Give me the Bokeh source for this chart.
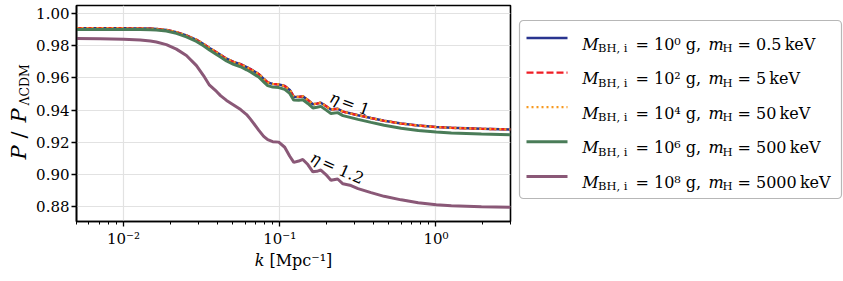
import math
from bokeh.plotting import figure
from bokeh.models import Range1d, FixedTicker, PrintfTickFormatter, CustomJSTickFormatter, BoxAnnotation, Label
from bokeh.layouts import row
from bokeh.core.properties import value
from bokeh.embed import file_html
from bokeh.resources import INLINE

# ---------------- data ----------------
k = [0.005, 0.00709, 0.010, 0.0128, 0.01484, 0.01622, 0.0188, 0.0218, 0.02527, 0.0293,
     0.0325, 0.03551, 0.03938, 0.04178, 0.04565, 0.05064, 0.05617, 0.06137, 0.06511, 0.07329,
     0.07891, 0.08373, 0.09016, 0.09853, 0.1076, 0.1159, 0.1230, 0.1324, 0.1405, 0.1513,
     0.1629, 0.1728, 0.1833, 0.1974, 0.2126, 0.2348, 0.2538, 0.2858, 0.3170, 0.3842,
     0.4656, 0.5984, 0.7697, 1.004, 1.254, 1.954, 3.0]

p_m1e0 = [0.9910, 0.9910, 0.9910, 0.9909, 0.9908, 0.9906, 0.9900, 0.9886, 0.9865, 0.9838,
          0.9812, 0.9787, 0.9760, 0.9744, 0.9720, 0.9700, 0.9686, 0.9668, 0.9655, 0.9625,
          0.9595, 0.9572, 0.9563, 0.9560, 0.9550, 0.9525, 0.9483, 0.9482, 0.9486, 0.9463,
          0.9436, 0.9440, 0.9446, 0.9425, 0.9403, 0.9408, 0.9390, 0.9378, 0.9368, 0.9350,
          0.9333, 0.9316, 0.9303, 0.9294, 0.9289, 0.9283, 0.9279]

p_m1e2 = [0.9910, 0.9910, 0.9910, 0.9909, 0.9908, 0.9906, 0.9900, 0.9886, 0.9865, 0.9838,
          0.9812, 0.9787, 0.9760, 0.9744, 0.9720, 0.9700, 0.9686, 0.9668, 0.9655, 0.9625,
          0.9595, 0.9572, 0.9563, 0.9560, 0.9550, 0.9525, 0.9483, 0.9482, 0.9486, 0.9463,
          0.9436, 0.9440, 0.9446, 0.9425, 0.9403, 0.9408, 0.9390, 0.9378, 0.9368, 0.9350,
          0.9333, 0.9316, 0.9303, 0.9294, 0.9289, 0.9283, 0.9279]

p_m1e4 = [0.9910, 0.9910, 0.9910, 0.9909, 0.9908, 0.9906, 0.9900, 0.9886, 0.9865, 0.9838,
          0.9812, 0.9787, 0.9760, 0.9744, 0.9720, 0.9700, 0.9686, 0.9668, 0.9655, 0.9625,
          0.9595, 0.9572, 0.9563, 0.9560, 0.9550, 0.9525, 0.9483, 0.9482, 0.9486, 0.9463,
          0.9436, 0.9440, 0.9446, 0.9425, 0.9403, 0.9408, 0.9390, 0.9378, 0.9368, 0.9350,
          0.9333, 0.9316, 0.9303, 0.9294, 0.9289, 0.9283, 0.9279]

p_m1e6 = [0.9903, 0.9903, 0.9903, 0.9902, 0.9901, 0.9899, 0.9893, 0.9878, 0.9856, 0.9828,
          0.9801, 0.9775, 0.9747, 0.9731, 0.9706, 0.9685, 0.9670, 0.9651, 0.9637, 0.9606,
          0.9576, 0.9552, 0.9543, 0.9540, 0.9529, 0.9504, 0.9462, 0.9461, 0.9464, 0.9441,
          0.9413, 0.9417, 0.9423, 0.9401, 0.9379, 0.9384, 0.9365, 0.9353, 0.9342, 0.9323,
          0.9305, 0.9287, 0.9273, 0.9263, 0.9257, 0.9250, 0.9246]

p_m1e8 = [0.9846, 0.9845, 0.9842, 0.9837, 0.9830, 0.9824, 0.9808, 0.9780, 0.9740, 0.9677,
          0.9615, 0.9555, 0.9516, 0.9490, 0.9460, 0.9432, 0.9403, 0.9372, 0.9342, 0.9275,
          0.9236, 0.9215, 0.9203, 0.9200, 0.9168, 0.9112, 0.9074, 0.9082, 0.9092, 0.9060,
          0.9015, 0.9018, 0.9026, 0.8998, 0.8962, 0.8970, 0.8940, 0.8929, 0.8910, 0.8885,
          0.8862, 0.8840, 0.8822, 0.8809, 0.8803, 0.8797, 0.8794]

legend_bh_exp = ["⁰", "²", "⁴", "⁶", "⁸"]
legend_mh = ["0.5", "5", "50", "500", "5000"]
y_ticks = [0.88, 0.90, 0.92, 0.94, 0.96, 0.98, 1.00]
x_ticks = [0.01, 0.1, 1.0]
eta_labels = ["1", "1.2"]
x_label = "𝑘 [Mpc⁻¹]"

# ---------------- styles ----------------
BLUE = "#29348f"
RED = "#f01d25"
ORANGE = "#f7991f"
GREEN = "#4a7c58"
PURPLE = "#8a5877"
SERIF = "DejaVu Serif"

# ---------------- geometry (page pixels, page origin at 0,0) ----------------
YLAB_W = 31
FL, FT, FW, FH = 76, 5, 434, 216
BR, BB = 5, 150
PANEL_H = FT + FH + BB
PANEL_SHIFT = 6
P1_W = FL - YLAB_W + FW + BR
LEG_X = YLAB_W + P1_W
LEG_W = 843 - LEG_X
X0, X1 = 0.005, 3.0
Y0, Y1 = 0.8705, 1.0052


def to_data(px, py):
    lx = math.log10(X0) + (px - FL) / FW * (math.log10(X1) - math.log10(X0))
    return 10 ** lx, Y0 + (FT + FH - py) / FH * (Y1 - Y0)


def panel(w, h):
    f = figure(x_range=Range1d(0, w), y_range=Range1d(h + PANEL_SHIFT, PANEL_SHIFT),
               frame_width=w, frame_height=h,
               min_border=0, x_axis_location=None, y_axis_location=None, title=None,
               output_backend="svg", toolbar_location=None, align="start")
    f.grid.visible = False
    f.outline_line_color = None
    f.background_fill_color = "white"
    f.border_fill_color = "white"
    return f


p = figure(x_axis_type="log", x_range=Range1d(X0, X1), y_range=Range1d(Y0, Y1),
           frame_width=FW, frame_height=FH, min_border_left=FL - YLAB_W, min_border_right=BR,
           min_border_top=FT, min_border_bottom=BB, align="start", title=None,
           output_backend="svg", toolbar_location=None)
p.background_fill_color = "white"
p.border_fill_color = "white"
p.outline_line_color = "black"
p.outline_line_width = 1.6

minor = []
for dec in [0.001, 0.01, 0.1, 1.0]:
    for m in range(2, 10):
        v = m * dec
        if X0 <= v <= X1:
            minor.append(v)
p.xaxis.ticker = FixedTicker(ticks=x_ticks, minor_ticks=minor)
p.yaxis.ticker = FixedTicker(ticks=y_ticks)
p.yaxis.formatter = PrintfTickFormatter(format="%.2f")
p.xaxis.formatter = CustomJSTickFormatter(code="""
const sup = {"-": "⁻", "0": "⁰", "1": "¹", "2": "²", "3": "³"};
const e = Math.round(Math.log10(tick));
return "10" + String(e).split("").map(c => sup[c]).join("");
""")
for ax in (p.xaxis[0], p.yaxis[0]):
    ax.axis_line_color = "black"
    ax.axis_line_width = 1.6
    ax.major_tick_line_color = "black"
    ax.major_tick_line_width = 1.3
    ax.major_tick_out = 5
    ax.major_tick_in = 0
    ax.major_label_text_font = SERIF
    ax.major_label_text_font_size = "15px"
    ax.major_label_text_color = "black"
p.xaxis.major_label_standoff = 3
p.yaxis.major_label_standoff = 2
p.xaxis.minor_tick_out = 3
p.xaxis.minor_tick_in = 0
p.xaxis.minor_tick_line_color = "black"
p.xaxis.minor_tick_line_width = 1
p.yaxis.minor_tick_line_color = None
p.xaxis.axis_label = x_label
p.xaxis.axis_label_text_font = SERIF
p.xaxis.axis_label_text_font_size = "16px"
p.xaxis.axis_label_text_font_style = "normal"
p.xaxis.axis_label_text_color = "black"
p.xaxis.axis_label_standoff = 0
p.grid.grid_line_color = "#e2e2e2"
p.grid.grid_line_width = 1.2

p.line(k, p_m1e0, color=BLUE, line_width=2.5)
p.line(k, p_m1e2, color=RED, line_width=2.3, line_dash="7 3")
p.line(k, p_m1e4, color=ORANGE, line_width=2.3, line_dash="2 3")
p.line(k, p_m1e6, color=GREEN, line_width=3)
p.line(k, p_m1e8, color=PURPLE, line_width=3)


def add_label(fig, px, py, text, size, style="normal", angle=0.0):
    x, y = to_data(px, py)
    fig.add_layout(Label(x=x, y=y, text=text, angle=angle, text_font=SERIF,
                         text_font_size=size, text_font_style=style,
                         text_baseline="alphabetic", text_align="left", text_color="black"))


# eta annotations inside the frame
a1 = math.radians(20)
add_label(p, 330, 96, "η", "16px", "italic", -a1)
add_label(p, 330 + 12.5 * math.cos(a1), 96 + 12.5 * math.sin(a1), "= " + eta_labels[0], "16px", "normal", -a1)
a2 = math.radians(24)
add_label(p, 311, 156, "η", "16px", "italic", -a2)
add_label(p, 311 + 12.5 * math.cos(a2), 156 + 12.5 * math.sin(a2), "= " + eta_labels[1], "16px", "normal", -a2)

# ---------------- y axis label panel:  P / P_ΛCDM ----------------
ylab = panel(YLAB_W, PANEL_H)
ylab.text(x=[30.5, 30.5], y=[160, 123], text=["P", "P"], angle=math.pi / 2,
          text_font=value(SERIF), text_font_size="21px", text_font_style="italic",
          text_baseline="bottom", text_align="left", text_color="black")
ylab.text(x=[30.5], y=[139], text=["/"], angle=math.pi / 2,
          text_font=value(SERIF), text_font_size="21px",
          text_baseline="bottom", text_align="left", text_color="black")
ylab.text(x=[31], y=[106], text=["ΛCDM"], angle=math.pi / 2,
          text_font=value(SERIF), text_font_size="12.5px",
          text_baseline="bottom", text_align="left", text_color="black")

# ---------------- legend panel ----------------
p2 = panel(LEG_W, PANEL_H)
OX = LEG_X
p2.add_layout(BoxAnnotation(left=519 - OX, right=841 - OX, top=21, bottom=199,
                            fill_color="white", fill_alpha=1.0, line_color="#111111",
                            line_width=1.2, border_radius=4, level="underlay"))

colors = [BLUE, RED, ORANGE, GREEN, PURPLE]
dashes = ["solid", "7 3", "2 3", "solid", "solid"]
widths = [2.5, 2.3, 2.3, 3, 3]
row_gap = 34.6
for i in range(5):
    cy = 38.5 + row_gap * i
    p2.line([526 - OX, 567 - OX], [cy, cy], color=colors[i], line_width=widths[i],
            line_dash=dashes[i])

main_x, main_y, main_t = [], [], []
it_x, it_y, it_t = [], [], []
sub_x, sub_y, sub_t = [], [], []
for i in range(5):
    by = 44.5 + row_gap * i
    it_x += [581.7 - OX, 708 - OX]
    it_y += [by, by]
    it_t += ["M", "m"]
    sub_x += [597.5 - OX, 722 - OX]
    sub_y += [by + 4, by + 4]
    sub_t += ["BH, i", "H"]
    main_x += [635 - OX, 737 - OX]
    main_y += [by, by]
    main_t += ["= 10" + legend_bh_exp[i] + " g,", "= " + legend_mh[i] + "\u2009keV"]

p2.text(x=it_x, y=it_y, text=it_t, text_font=value(SERIF), text_font_size="16px",
        text_font_style="italic", text_baseline="alphabetic", text_align="left", text_color="black")
p2.text(x=sub_x, y=sub_y, text=sub_t, text_font=value(SERIF), text_font_size="11.5px",
        text_baseline="alphabetic", text_align="left", text_color="black")
p2.text(x=main_x, y=main_y, text=main_t, text_font=value(SERIF), text_font_size="16px",
        text_baseline="alphabetic", text_align="left", text_color="black")

layout = row(ylab, p, p2, align="start")

open("out.html", "w", encoding="utf-8").write(file_html(layout, INLINE))
